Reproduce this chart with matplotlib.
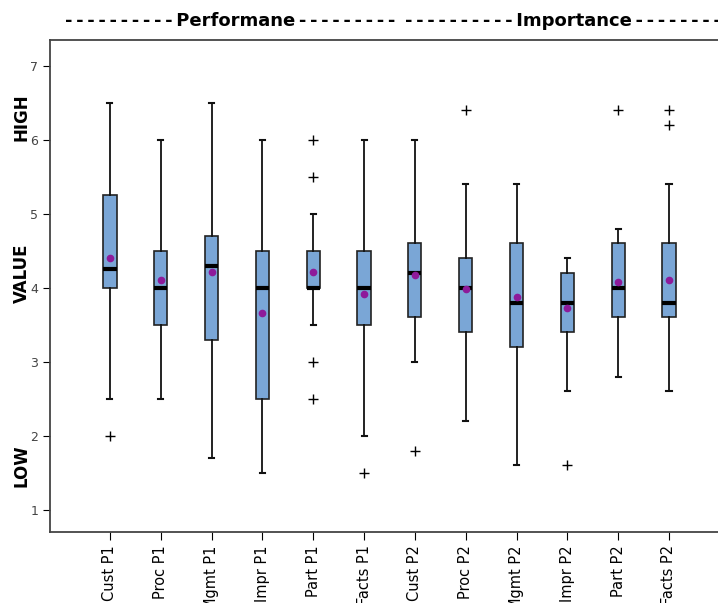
import matplotlib
matplotlib.use("Agg")
import matplotlib.pyplot as plt

# categories
labels = ["Cust P1", "Proc P1", "Mgmt P1", "Impr P1", "Part P1", "Facts P1",
          "Cust P2", "Proc P2", "Mgmt P2", "Impr P2", "Part P2", "Facts P2"]

# box statistics
whislo = [2.5, 2.5, 1.7, 1.5, 3.5, 2.0, 3.0, 2.2, 1.6, 2.6, 2.8, 2.6]
q1     = [4.0, 3.5, 3.3, 2.5, 4.0, 3.5, 3.6, 3.4, 3.2, 3.4, 3.6, 3.6]
med    = [4.25, 4.0, 4.3, 4.0, 4.0, 4.0, 4.2, 4.0, 3.8, 3.8, 4.0, 3.8]
q3     = [5.25, 4.5, 4.7, 4.5, 4.5, 4.5, 4.6, 4.4, 4.6, 4.2, 4.6, 4.6]
whishi = [6.5, 6.0, 6.5, 6.0, 5.0, 6.0, 6.0, 5.4, 5.4, 4.4, 4.8, 5.4]
means  = [4.41, 4.11, 4.21, 3.66, 4.21, 3.92, 4.18, 3.98, 3.87, 3.73, 4.08, 4.10]
fliers = [[2.0], [], [], [], [6.0, 5.5, 3.0, 2.5], [1.5],
          [1.8], [6.4], [], [1.6], [6.4], [6.4, 6.2]]

stats = []
for i in range(len(labels)):
    stats.append(dict(label=labels[i], whislo=whislo[i], q1=q1[i], med=med[i],
                      q3=q3[i], whishi=whishi[i], mean=means[i], fliers=fliers[i]))

fig = plt.figure(figsize=(7.18, 6.03), dpi=100)
ax = fig.add_axes([0.0696, 0.1177, 0.94, 0.816])

ax.bxp(stats, positions=range(len(labels)), widths=0.26, capwidths=0.1,
       patch_artist=True, showmeans=True,
       boxprops=dict(facecolor="#7aa6d6", edgecolor="#222222", linewidth=1.2),
       medianprops=dict(color="black", linewidth=3),
       whiskerprops=dict(color="#111111", linewidth=1.3),
       capprops=dict(color="#111111", linewidth=1.5),
       meanprops=dict(marker="o", markerfacecolor="#8e1a9a", markeredgecolor="#8e1a9a",
                      markersize=4.5),
       flierprops=dict(marker="+", markeredgecolor="black", markersize=7,
                       markeredgewidth=1))

ax.set_xlim(-1.18, 12.1)
ax.set_ylim(0.7, 7.35)
ax.set_yticks([1, 2, 3, 4, 5, 6, 7])
ax.tick_params(axis="y", labelsize=9, labelcolor="#444444", length=5)
ax.set_xticks(range(len(labels)))
ax.set_xticklabels(labels, rotation=90, fontsize=10.5)
ax.tick_params(axis="x", length=6)
ax.spines["right"].set_visible(False)
for s in ["left", "bottom", "top"]:
    ax.spines[s].set_linewidth(1.3)
    ax.spines[s].set_color("#444444")

fig.text(0.03, 0.805, "HIGH", rotation=90, fontsize=12, fontweight="bold",
         ha="center", va="center")
fig.text(0.03, 0.547, "VALUE", rotation=90, fontsize=12, fontweight="bold",
         ha="center", va="center")
fig.text(0.03, 0.228, "LOW", rotation=90, fontsize=12, fontweight="bold",
         ha="center", va="center")

dash = "-\u2009"
fig.text(0.090, 0.965, dash * 10 + "Performane" + ("\u2009-" * 9), fontsize=13,
         fontweight="bold", ha="left", va="center")
fig.text(0.564, 0.965, dash * 10 + "Importance" + ("\u2009-" * 9), fontsize=13,
         fontweight="bold", ha="left", va="center")

fig.savefig("out.png", dpi=100)
